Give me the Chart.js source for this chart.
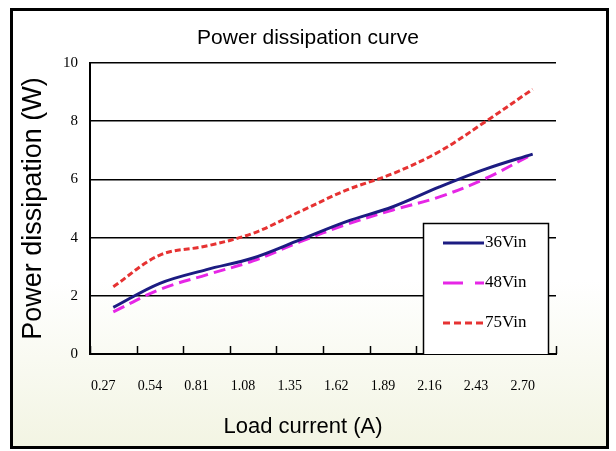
<!DOCTYPE html>
<html><head><meta charset="utf-8">
<script src="https://cdn.jsdelivr.net/npm/chart.js@4.4.0/dist/chart.umd.min.js"></script>
<style>html,body{margin:0;padding:0;background:#fff;} canvas{display:block;}</style>
</head><body>
<canvas id="c" width="616" height="451"></canvas>
<script>
const categories = ['0.27','0.54','0.81','1.08','1.35','1.62','1.89','2.16','2.43','2.70'];
const series36Vin = [1.6, 2.43, 2.9, 3.3, 3.92, 4.55, 5.06, 5.74, 6.36, 6.87];
const series48Vin = [1.45, 2.22, 2.72, 3.2, 3.85, 4.45, 4.95, 5.4, 6.04, 6.87];
const series75Vin = [2.31, 3.4, 3.71, 4.15, 4.89, 5.63, 6.2, 6.96, 8.0, 9.1];
const seriesNames = ['36Vin', '48Vin', '75Vin'];
const yMin = 0, yMax = 10, yStep = 2;
const chartTitle = 'Power dissipation curve';
const xTitle = 'Load current (A)';
const yTitle = 'Power dissipation (W)';

const framePlugin = {
  id: 'frame',
  beforeDraw(chart) {
    const ctx = chart.ctx;
    ctx.save();
    ctx.fillStyle = '#ffffff';
    ctx.fillRect(0, 0, chart.width, chart.height);
    const g = ctx.createLinearGradient(0, 280, 0, 451);
    g.addColorStop(0, '#ffffff');
    g.addColorStop(1, '#f2f4e2');
    ctx.fillStyle = g;
    ctx.fillRect(11, 9, 597, 439);
    ctx.strokeStyle = '#000';
    ctx.lineWidth = 3;
    ctx.strokeRect(11.5, 9.5, 596, 438);
    ctx.restore();
  },
  afterDraw(chart) {
    const ctx = chart.ctx;
    const xs = chart.scales.x;
    const area = chart.chartArea;
    ctx.save();
    // chart title
    ctx.fillStyle = '#000';
    ctx.font = '21px "Liberation Sans"';
    ctx.textAlign = 'center';
    ctx.textBaseline = 'middle';
    ctx.fillText(chartTitle, 308, 38);
    // inward tick marks at category boundaries
    const step = xs.getPixelForValue(1) - xs.getPixelForValue(0);
    ctx.strokeStyle = '#000';
    ctx.lineWidth = 1.5;
    for (let i = 0; i <= categories.length; i++) {
      const x = Math.round(xs.getPixelForValue(0) + (i - 0.5) * step) + 0.5;
      ctx.beginPath();
      ctx.moveTo(x, area.bottom);
      ctx.lineTo(x, area.bottom - 8);
      ctx.stroke();
    }
    // x axis title
    ctx.fillStyle = '#000';
    ctx.font = '22px "Liberation Sans"';
    ctx.textAlign = 'center';
    ctx.textBaseline = 'middle';
    ctx.fillText(xTitle, 303, 427);
    // legend
    ctx.fillStyle = '#fff';
    ctx.fillRect(423, 223, 125, area.bottom - 223);
    ctx.strokeStyle = '#000';
    ctx.lineWidth = 1.5;
    ctx.beginPath();
    ctx.moveTo(423.5, area.bottom);
    ctx.lineTo(423.5, 223.5);
    ctx.lineTo(548.5, 223.5);
    ctx.lineTo(548.5, area.bottom);
    ctx.stroke();
    const legendDash = [[], [20, 12], [7, 4]];
    chart.data.datasets.forEach((ds, i) => {
      const y = 243 + 40 * i;
      ctx.strokeStyle = ds.borderColor;
      ctx.lineWidth = 3;
      ctx.setLineDash(legendDash[i]);
      ctx.beginPath();
      ctx.moveTo(443, y);
      ctx.lineTo(484, y);
      ctx.stroke();
      ctx.setLineDash([]);
      ctx.fillStyle = '#000';
      ctx.font = '17px "Liberation Serif"';
      ctx.textAlign = 'left';
      ctx.textBaseline = 'middle';
      ctx.fillText(ds.label, 485, y);
    });
    ctx.restore();
  }
};

new Chart(document.getElementById('c'), {
  type: 'line',
  data: {
    labels: categories,
    datasets: [
      { label: seriesNames[0], data: series36Vin, borderColor: '#1c1c82', borderWidth: 3, pointRadius: 0, tension: 0.35, fill: false },
      { label: seriesNames[1], data: series48Vin, borderColor: '#e626e6', borderWidth: 3, borderDash: [12, 6], pointRadius: 0, tension: 0.35, fill: false },
      { label: seriesNames[2], data: series75Vin, borderColor: '#e63232', borderWidth: 3, borderDash: [6, 3], pointRadius: 0, tension: 0.35, fill: false }
    ]
  },
  options: {
    responsive: false,
    animation: false,
    devicePixelRatio: 1,
    layout: { padding: { left: 0, right: 60, top: 63, bottom: 0 } },
    plugins: {
      legend: { display: false },
      tooltip: { enabled: false },
      title: { display: false }
    },
    scales: {
      x: {
        type: 'category', offset: true,
        grid: { display: false, drawTicks: false },
        border: { display: true, color: '#000', width: 2 },
        ticks: { color: '#000', font: { family: 'Liberation Serif', size: 14 }, padding: 24, labelOffset: -10, maxRotation: 0, autoSkip: false },
        afterFit(s) { s.height = 97; }
      },
      y: {
        min: yMin, max: yMax,
        ticks: { stepSize: yStep, padding: 12, color: '#000', font: { family: 'Liberation Serif', size: 15 } },
        grid: { color: '#000', lineWidth: 1.5, drawTicks: false },
        border: { display: true, color: '#000', width: 2 },
        title: { display: true, text: yTitle, color: '#000', font: { family: 'Liberation Sans', size: 27 }, padding: { top: 17, bottom: 0 } },
        afterFit(s) { s.width = 90; }
      }
    }
  },
  plugins: [framePlugin]
});
</script>
</body></html>
